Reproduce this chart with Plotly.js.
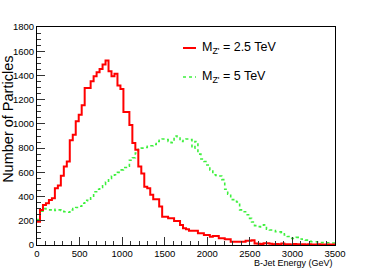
<!DOCTYPE html>
<html>
<head>
<meta charset="utf-8">
<script src="https://cdn.plot.ly/plotly-3.0.1.min.js"></script>
<style>html,body{margin:0;padding:0;background:#fff;}#chart{width:373px;height:274px;}</style>
</head>
<body>
<div id="chart"></div>
<script>
// Histogram binning (GeV)
const binWidth = 35;
const xMin = 0;
// M_Z' = 2.5 TeV (red)
const countsZ25 = [
  193, 290, 331, 345, 372, 386, 469, 491, 571, 648,
  690, 864, 911, 1021, 1076, 1153, 1297, 1297, 1352, 1393,
  1426, 1454, 1490, 1523, 1435, 1393, 1413, 1316, 1289, 1098,
  1098, 990, 842, 786, 648, 590, 480, 469, 414, 378,
  378, 317, 234, 234, 221, 221, 199, 199, 166, 138,
  130, 118, 118, 118, 97, 97, 83, 83, 69, 74,
  74, 55, 55, 47, 47, 27, 27, 27, 27, 27,
  36, 36, 40, 12, 10, 8, 14, 14, 10, 7,
  8, 6, 12, 7, 6, 5, 8, 6, 5, 7,
  5, 6, 4, 5, 6, 4, 5, 4, 5, 4
];
// M_Z' = 5 TeV (green)
const countsZ5 = [
  210, 280, 300, 290, 290, 295, 285, 290, 285, 275,
  270, 290, 300, 310, 320, 345, 370, 365, 390, 440,
  460, 475, 500, 520, 550, 570, 580, 600, 620, 640,
  650, 700, 720, 760, 790, 800, 805, 815, 820, 830,
  855, 865, 875, 870, 855, 845, 900, 895, 855, 870,
  875, 870, 800, 855, 750, 710, 690, 660, 620, 580,
  575, 570, 540, 460, 420, 375, 360, 355, 290, 275,
  250, 220, 190, 160, 152, 150, 166, 130, 124, 120,
  110, 108, 100, 83, 70, 55, 58, 63, 50, 47,
  40, 30, 27, 27, 25, 20, 19, 18, 19, 17
];
const seriesNames = ["M<sub>Z'</sub> = 2.5 TeV", "M<sub>Z'</sub> = 5 TeV"];
const xTitle = "B-Jet Energy (GeV)";
const yTitle = "Number of Particles";

function stepXY(counts) {
  const xs = [], ys = [];
  for (let i = 0; i < counts.length; i++) { xs.push(xMin + i * binWidth); ys.push(counts[i]); }
  xs.push(xMin + counts.length * binWidth); ys.push(counts[counts.length - 1]);
  return {xs, ys};
}
const r = stepXY(countsZ25), g = stepXY(countsZ5);

const font = "Liberation Sans, Arial, Helvetica, sans-serif";
const traces = [
  {type:'scatter', mode:'lines', x:g.xs, y:g.ys, name:seriesNames[1],
   line:{shape:'hv', color:'#3ef03e', width:1.6, dash:'dot'}, hoverinfo:'skip'},
  {type:'scatter', mode:'lines', x:r.xs, y:r.ys, name:seriesNames[0],
   line:{shape:'hv', color:'#ff0000', width:2}, hoverinfo:'skip'}
];

const axisCommon = {
  showgrid:false, zeroline:false, showline:true, linecolor:'#000', linewidth:1, mirror:true,
  ticks:'inside', ticklen:8, tickcolor:'#333', tickwidth:1,
  tickfont:{family:font, size:9.5, color:'#000'}
};
const layout = {
  width:373, height:274,
  margin:{l:37, r:38, t:27, b:29},
  paper_bgcolor:'#fff', plot_bgcolor:'#fff',
  showlegend:false,
  xaxis:Object.assign({}, axisCommon, {range:[0,3500], tickmode:'linear', tick0:0, dtick:500,
    minor:{dtick:100, ticks:'inside', ticklen:4, tickcolor:'#333'}}),
  yaxis:Object.assign({}, axisCommon, {range:[0,1800], tickmode:'linear', tick0:0, dtick:200,
    minor:{dtick:50, ticks:'inside', ticklen:4, tickcolor:'#333'}}),
  annotations:[
    {xref:'paper', yref:'paper', x:1, y:-0.05, xanchor:'right', yanchor:'top', showarrow:false,
     text:xTitle, font:{family:font, size:9, color:'#000'}},
    {xref:'paper', yref:'paper', x:-0.1, y:0.575, xanchor:'center', yanchor:'middle', showarrow:false,
     textangle:-90, text:yTitle, font:{family:font, size:14.5, color:'#000'}},
    {xref:'paper', yref:'paper', x:(200-37)/298, y:(245-48)/218, xanchor:'left', yanchor:'middle', showarrow:false,
     text:seriesNames[0], font:{family:font, size:12.5, color:'#000'}},
    {xref:'paper', yref:'paper', x:(200-37)/298, y:(245-77)/218, xanchor:'left', yanchor:'middle', showarrow:false,
     text:seriesNames[1], font:{family:font, size:12.5, color:'#000'}}
  ],
  shapes:[
    {type:'line', xref:'paper', yref:'paper', x0:(183-37)/298, x1:(196-37)/298, y0:(245-48)/218, y1:(245-48)/218,
     line:{color:'#ff0000', width:2}},
    {type:'line', xref:'paper', yref:'paper', x0:(183-37)/298, x1:(196-37)/298, y0:(245-77)/218, y1:(245-77)/218,
     line:{color:'#3ef03e', width:1.6, dash:'dot'}}
  ]
};
Plotly.newPlot('chart', traces, layout, {staticPlot:true, displayModeBar:false});
</script>
</body>
</html>
